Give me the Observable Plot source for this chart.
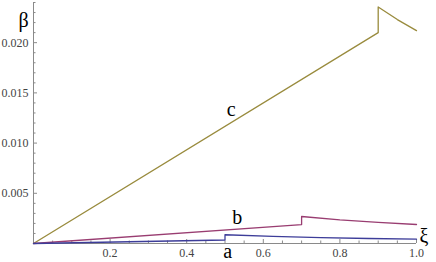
<!DOCTYPE html>
<html>
<head>
<meta charset="utf-8">
<script src="https://cdn.jsdelivr.net/npm/d3@7"></script>
<script src="https://cdn.jsdelivr.net/npm/@observablehq/plot@0.6"></script>
<style>
  html, body { margin: 0; padding: 0; background: #fff; }
  #chart { width: 436px; height: 262px; }
</style>
</head>
<body>
<div id="chart"></div>
<script>
// Series a (blue), b (magenta), c (olive): ξ and β values
const xiA   = [0, 0.5, 0.5, 0.625, 0.75, 0.875, 1.0];
const betaA = [0, 0.00035, 0.00087, 0.0007, 0.00058, 0.0005, 0.000435];
const xiB   = [0, 0.7, 0.7, 0.8, 0.9, 1.0];
const betaB = [0, 0.00188, 0.00269, 0.00235, 0.0021, 0.00189];
const xiC   = [0, 0.9, 0.9, 0.95, 1.0];
const betaC = [0, 0.0210, 0.02355, 0.0223, 0.0212];

// Curve labels (name, ξ, β)
const curveNames = ["a", "b", "c"];
const labelXi    = [0.507, 0.532, 0.516];
const labelBeta  = [-0.0008, 0.00262, 0.0133];

// Ticks
const xMajor = [0.2, 0.4, 0.6, 0.8, 1.0];
const xMajorLabels = ["0.2", "0.4", "0.6", "0.8", "1.0"];
const xMinor = d3.range(1, 20).map(i => i * 0.05).filter(v => !xMajor.some(m => Math.abs(m - v) < 1e-9));
const yMajor = [0.005, 0.010, 0.015, 0.020];
const yMajorLabels = ["0.005", "0.010", "0.015", "0.020"];
const yMinor = d3.range(1, 25).map(i => i * 0.001).filter(v => !yMajor.some(m => Math.abs(m - v) < 1e-9));

const colors = ["#3D3D99", "#993D71", "#998B3D"];
const toRows = (xs, ys) => xs.map((x, i) => ({x, y: ys[i]}));
const seriesA = toRows(xiA, betaA);
const seriesB = toRows(xiB, betaB);
const seriesC = toRows(xiC, betaC);
const labels = curveNames.map((n, i) => ({n, x: labelXi[i], y: labelBeta[i]}));

const font = "'Liberation Serif', 'DejaVu Serif', serif";
const axisColor = "#8a8a8a";
const frameH = 262 - 2 - 19;
const frameW = 436 - 33 - 20;

const chart = Plot.plot({
  width: 436,
  height: 262,
  marginLeft: 33,
  marginRight: 20,
  marginTop: 2,
  marginBottom: 19,
  style: {background: "#fff", fontFamily: font, overflow: "visible"},
  x: {domain: [0, 1], axis: null},
  y: {domain: [0, 0.024], axis: null},
  marks: [
    // axes lines
    Plot.ruleY([0], {stroke: axisColor, strokeWidth: 1}),
    Plot.ruleX([0], {stroke: axisColor, strokeWidth: 1}),
    // x ticks (inward)
    Plot.ruleX(xMajor, {x: d => d, stroke: axisColor, insetTop: frameH - 4}),
    Plot.ruleX(xMinor, {x: d => d, stroke: axisColor, insetTop: frameH - 2.5}),
    // y ticks (inward)
    Plot.ruleY(yMajor, {y: d => d, stroke: axisColor, insetRight: frameW - 4}),
    Plot.ruleY(yMinor, {y: d => d, stroke: axisColor, insetRight: frameW - 2.5}),
    // tick labels
    Plot.text(xMajor, {x: d => d, y: 0, text: (d, i) => xMajorLabels[i], dy: 10, fontSize: 12, fill: "#444", fontFamily: font}),
    Plot.text(yMajor, {x: 0, y: d => d, text: (d, i) => yMajorLabels[i], textAnchor: "end", dx: -5, fontSize: 12, fill: "#444", fontFamily: font}),
    // series
    Plot.line(seriesC, {x: "x", y: "y", stroke: colors[2], strokeWidth: 1.3}),
    Plot.line(seriesB, {x: "x", y: "y", stroke: colors[1], strokeWidth: 1.3}),
    Plot.line(seriesA, {x: "x", y: "y", stroke: colors[0], strokeWidth: 1.3}),
    // curve labels
    Plot.text(labels, {x: "x", y: "y", text: "n", fontSize: 20, fill: "#000", fontFamily: font}),
    // axis labels
    Plot.text(["β"], {frameAnchor: "top-left", text: d => d, dx: -15, dy: 10, fontSize: 20, fill: "#000", fontFamily: font}),
    Plot.text(["ξ"], {frameAnchor: "bottom-right", text: d => d, dx: 12, dy: -1, fontSize: 20, fill: "#000", fontFamily: font})
  ]
});
document.getElementById("chart").appendChild(chart);
</script>
</body>
</html>
